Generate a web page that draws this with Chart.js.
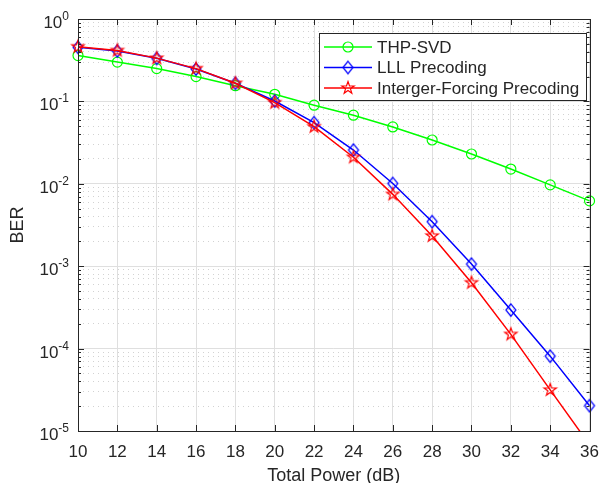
<!DOCTYPE html>
<html>
<head>
<meta charset="utf-8">
<script src="https://cdn.jsdelivr.net/npm/chart.js@4/dist/chart.umd.min.js"></script>
<style>
  html, body { margin: 0; padding: 0; background: #fff; }
  #wrap { width: 610px; height: 483px; }
</style>
</head>
<body>
<div id="wrap"><canvas id="berChart" width="610" height="483"></canvas></div>
<script>
/************ DATA ************/
const power = [10, 12, 14, 16, 18, 20, 22, 24, 26, 28, 30, 32, 34, 36];

const thpSvd = [0.36, 0.30, 0.25, 0.20, 0.155, 0.122, 0.090, 0.068, 0.049, 0.034, 0.023, 0.0151, 0.0097, 0.0062];
const lllPre = [0.454, 0.409, 0.333, 0.247, 0.166, 0.101, 0.0552, 0.0257, 0.0101, 0.00347, 0.00106, 0.000294, 0.000081, 0.0000203];
const ifPre  = [0.461, 0.415, 0.335, 0.25, 0.166, 0.0966, 0.0493, 0.021, 0.00745, 0.00233, 0.00063, 0.000149, 0.0000315, 0.0000068];

const seriesNames = ["THP-SVD", "LLL Precoding", "Interger-Forcing Precoding"];
const yMajor = [1e-5, 1e-4, 1e-3, 1e-2, 1e-1, 1];
const yExp = ["-5", "-4", "-3", "-2", "-1", "0"];

/************ STYLE ************/
const FONT = "'Liberation Sans', Arial, Helvetica, sans-serif";
const AXIS_COLOR = "#262626";
const GRID_MAJOR = "#dfdfdf";
const GRID_MINOR = "#d2d2d2";

/************ MARKERS ************/
function makeStar(color) {
  const c = document.createElement("canvas");
  c.width = 18; c.height = 18;
  const g = c.getContext("2d");
  const ro = 6.5, ri = 2.6;
  g.beginPath();
  for (let i = 0; i < 10; i++) {
    const r = i % 2 ? ri : ro;
    const a = -Math.PI / 2 + i * Math.PI / 5;
    const px = 9 + r * Math.cos(a), py = 9 + r * Math.sin(a);
    if (i === 0) g.moveTo(px, py); else g.lineTo(px, py);
  }
  g.closePath();
  g.strokeStyle = color;
  g.lineWidth = 1.2;
  g.stroke();
  return c;
}

function makeDiamond(color) {
  const c = document.createElement("canvas");
  c.width = 18; c.height = 18;
  const g = c.getContext("2d");
  g.beginPath();
  g.moveTo(9, 2.8);
  g.lineTo(14, 9);
  g.lineTo(9, 15.2);
  g.lineTo(4, 9);
  g.closePath();
  g.strokeStyle = color;
  g.lineWidth = 1.2;
  g.stroke();
  return c;
}

const starMark = makeStar("#ff0000");
const diamondMark = makeDiamond("#0000ff");

function toPoints(ys) {
  return power.map((x, i) => ({ x: x, y: ys[i] }));
}

/************ PLUGIN: box, inward ticks, y labels, legend ************/
const matlabAxes = {
  id: "matlabAxes",
  afterDraw(chart) {
    const ctx = chart.ctx;
    const area = chart.chartArea;
    const xs = chart.scales.x;
    const ys = chart.scales.y;

    ctx.save();
    ctx.strokeStyle = AXIS_COLOR;
    ctx.lineWidth = 1;

    // inward tick marks
    ctx.beginPath();
    xs.ticks.forEach(t => {
      const px = Math.round(xs.getPixelForValue(t.value)) + 0.5;
      ctx.moveTo(px, area.bottom); ctx.lineTo(px, area.bottom - 6);
      ctx.moveTo(px, area.top); ctx.lineTo(px, area.top + 6);
    });
    ys.ticks.forEach(t => {
      const py = Math.round(ys.getPixelForValue(t.value)) + 0.5;
      const len = t.major ? 6 : 3;
      ctx.moveTo(area.left, py); ctx.lineTo(area.left + len, py);
      ctx.moveTo(area.right, py); ctx.lineTo(area.right - len, py);
    });
    ctx.stroke();

    // box
    ctx.strokeRect(Math.round(area.left) + 0.5, Math.round(area.top) + 0.5,
      Math.round(area.right - area.left), Math.round(area.bottom - area.top));

    // y tick labels 10^n
    ctx.fillStyle = AXIS_COLOR;
    ctx.textBaseline = "alphabetic";
    ctx.textAlign = "left";
    yMajor.forEach((v, i) => {
      const py = ys.getPixelForValue(v);
      ctx.font = "12px " + FONT;
      const ew = ctx.measureText(yExp[i]).width;
      ctx.font = "17px " + FONT;
      const bw = ctx.measureText("10").width;
      const right = area.left - 9;
      ctx.fillText("10", right - ew - bw, py + 9);
      ctx.font = "12px " + FONT;
      ctx.fillText(yExp[i], right - ew, py + 1);
    });

    // legend
    const lx = 319, ly = 33, lw = 267, lh = 67;
    ctx.fillStyle = "#ffffff";
    ctx.fillRect(lx, ly, lw, lh);
    ctx.strokeStyle = AXIS_COLOR;
    ctx.strokeRect(lx + 0.5, ly + 0.5, lw, lh);
    const rows = [47, 67.5, 88];
    chart.data.datasets.forEach((ds, i) => {
      const ry = rows[i];
      ctx.strokeStyle = ds.borderColor;
      ctx.lineWidth = ds.borderWidth;
      ctx.beginPath();
      ctx.moveTo(324, ry); ctx.lineTo(372, ry);
      ctx.stroke();
      if (ds.pointStyle === "circle") {
        ctx.lineWidth = ds.pointBorderWidth;
        ctx.beginPath();
        ctx.arc(348, ry, ds.pointRadius, 0, Math.PI * 2);
        ctx.stroke();
      } else {
        ctx.drawImage(ds.pointStyle, 348 - 9, ry - 9);
      }
      ctx.fillStyle = AXIS_COLOR;
      ctx.font = "17px " + FONT;
      ctx.textBaseline = "middle";
      ctx.fillText(ds.label, 377, ry + 1);
    });

    ctx.restore();
  }
};

/************ CHART ************/
const ctx = document.getElementById("berChart").getContext("2d");

const berChart = new Chart(ctx, {
  type: "line",
  data: {
    datasets: [
      {
        label: seriesNames[0],
        data: toPoints(thpSvd),
        borderColor: "#00ff00",
        backgroundColor: "rgba(0,0,0,0)",
        borderWidth: 1.5,
        pointStyle: "circle",
        pointRadius: 5,
        pointBorderWidth: 1.2,
        pointBorderColor: "#00ff00",
        pointBackgroundColor: "rgba(0,0,0,0)",
        order: 2
      },
      {
        label: seriesNames[1],
        data: toPoints(lllPre),
        borderColor: "#0000ff",
        backgroundColor: "rgba(0,0,0,0)",
        borderWidth: 1.5,
        pointStyle: diamondMark,
        pointRadius: 6,
        order: 1
      },
      {
        label: seriesNames[2],
        data: toPoints(ifPre),
        borderColor: "#ff0000",
        backgroundColor: "rgba(0,0,0,0)",
        borderWidth: 1.5,
        pointStyle: starMark,
        pointRadius: 7,
        order: 0
      }
    ]
  },
  options: {
    responsive: false,
    animation: false,
    devicePixelRatio: 1,
    layout: { padding: { top: 19, right: 12, bottom: 0, left: 0 } },
    elements: { line: { tension: 0 } },
    datasets: { line: { clip: { left: 10, right: 10, top: 10, bottom: 0 } } },
    plugins: {
      legend: { display: false },
      tooltip: { enabled: false }
    },
    scales: {
      x: {
        type: "linear",
        min: 10,
        max: 36,
        afterFit: s => { s.height = 52; },
        ticks: {
          stepSize: 2,
          color: AXIS_COLOR,
          font: { family: FONT, size: 17 },
          padding: 11,
          maxRotation: 0
        },
        grid: { color: GRID_MAJOR, lineWidth: 1, drawTicks: false },
        border: { display: false },
        title: {
          display: true,
          text: "Total Power (dB)",
          color: AXIS_COLOR,
          font: { family: FONT, size: 18, lineHeight: 0.8 },
          padding: { top: 0, bottom: 0 }
        }
      },
      y: {
        type: "logarithmic",
        min: 1e-5,
        max: 1,
        afterFit: s => { s.width = 78; },
        afterBuildTicks: axis => {
          const list = [];
          yMajor.forEach((m, i) => {
            list.push({ value: m, major: true });
            if (i < yMajor.length - 1) {
              for (let k = 2; k <= 9; k++) list.push({ value: m * k, major: false });
            }
          });
          axis.ticks = list;
        },
        ticks: { display: false, autoSkip: false },
        grid: {
          drawTicks: false,
          lineWidth: 1,
          color: c => (c.tick && c.tick.major) ? GRID_MAJOR : GRID_MINOR
        },
        border: {
          display: false,
          dash: c => (c.tick && c.tick.major) ? [] : [1, 4]
        },
        title: {
          display: true,
          text: "BER",
          color: AXIS_COLOR,
          font: { family: FONT, size: 18, lineHeight: 1.2 },
          padding: { top: 7, bottom: 0 }
        }
      }
    }
  },
  plugins: [matlabAxes]
});
</script>
</body>
</html>
